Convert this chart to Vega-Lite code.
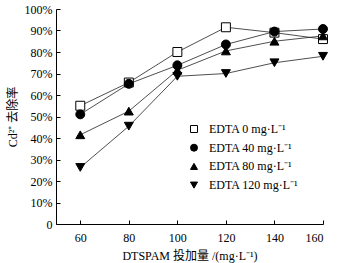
{
  "$schema": "https://vega.github.io/schema/vega-lite/v6.json",
  "width": 267,
  "height": 215,
  "autosize": {"type": "none"},
  "padding": {"left": 56, "top": 9, "right": 25, "bottom": 39},
  "background": "white",
  "config": {
    "view": {"stroke": null},
    "font": "Liberation Serif",
    "axis": {
      "grid": false,
      "domainColor": "#000",
      "domainWidth": 1,
      "tickColor": "#000",
      "tickSize": -4,
      "labelFont": "Liberation Serif",
      "labelFontSize": 12,
      "labelColor": "#000",
      "titleFont": "Liberation Serif, Noto Sans CJK SC",
      "titleFontSize": 12,
      "titleFontWeight": "normal",
      "titleColor": "#000"
    },
    "legend": {
      "labelFont": "Liberation Serif",
      "labelFontSize": 12,
      "labelColor": "#000"
    }
  },
  "data": {
    "values": [
      {"series": "EDTA 0 mg·L⁻¹", "dose": 60, "rate": 55},
      {"series": "EDTA 0 mg·L⁻¹", "dose": 80, "rate": 65.8},
      {"series": "EDTA 0 mg·L⁻¹", "dose": 100, "rate": 80},
      {"series": "EDTA 0 mg·L⁻¹", "dose": 120, "rate": 91.5},
      {"series": "EDTA 0 mg·L⁻¹", "dose": 140, "rate": 89},
      {"series": "EDTA 0 mg·L⁻¹", "dose": 160, "rate": 86},
      {"series": "EDTA 40 mg·L⁻¹", "dose": 60, "rate": 51},
      {"series": "EDTA 40 mg·L⁻¹", "dose": 80, "rate": 65.2},
      {"series": "EDTA 40 mg·L⁻¹", "dose": 100, "rate": 73.8},
      {"series": "EDTA 40 mg·L⁻¹", "dose": 120, "rate": 83.5},
      {"series": "EDTA 40 mg·L⁻¹", "dose": 140, "rate": 89.5},
      {"series": "EDTA 40 mg·L⁻¹", "dose": 160, "rate": 90.7},
      {"series": "EDTA 80 mg·L⁻¹", "dose": 60, "rate": 41.5},
      {"series": "EDTA 80 mg·L⁻¹", "dose": 80, "rate": 52.5},
      {"series": "EDTA 80 mg·L⁻¹", "dose": 100, "rate": 71.5},
      {"series": "EDTA 80 mg·L⁻¹", "dose": 120, "rate": 80.5},
      {"series": "EDTA 80 mg·L⁻¹", "dose": 140, "rate": 85},
      {"series": "EDTA 80 mg·L⁻¹", "dose": 160, "rate": 87.5},
      {"series": "EDTA 120 mg·L⁻¹", "dose": 60, "rate": 26.3},
      {"series": "EDTA 120 mg·L⁻¹", "dose": 80, "rate": 45.5},
      {"series": "EDTA 120 mg·L⁻¹", "dose": 100, "rate": 68.7},
      {"series": "EDTA 120 mg·L⁻¹", "dose": 120, "rate": 70},
      {"series": "EDTA 120 mg·L⁻¹", "dose": 140, "rate": 75},
      {"series": "EDTA 120 mg·L⁻¹", "dose": 160, "rate": 78}
    ]
  },
  "encoding": {
    "x": {
      "field": "dose",
      "type": "quantitative",
      "scale": {"domain": [50, 160], "nice": false, "zero": false},
      "axis": {
        "values": [60, 80, 100, 120, 140, 160],
        "labelPadding": 12,
        "title": "DTSPAM 投加量 /(mg·L⁻¹)",
        "titlePadding": 7
      }
    },
    "y": {
      "field": "rate",
      "type": "quantitative",
      "scale": {"domain": [0, 100], "nice": false},
      "axis": {
        "values": [0, 10, 20, 30, 40, 50, 60, 70, 80, 90, 100],
        "labelExpr": "datum.value == 0 ? '0' : datum.value + '%'",
        "labelPadding": 8,
        "title": "Cd²⁺ 去除率",
        "titlePadding": 5
      }
    }
  },
  "layer": [
    {
      "mark": {"type": "line", "color": "#222", "strokeWidth": 0.8},
      "encoding": {"detail": {"field": "series"}}
    },
    {
      "mark": {"type": "point", "filled": false, "stroke": "#000", "strokeWidth": 1, "opacity": 1, "size": 80},
      "encoding": {
        "shape": {
          "field": "series",
          "scale": {
            "domain": ["EDTA 0 mg·L⁻¹", "EDTA 40 mg·L⁻¹", "EDTA 80 mg·L⁻¹", "EDTA 120 mg·L⁻¹"],
            "range": ["square", "circle", "triangle-up", "triangle-down"]
          },
          "legend": {
            "title": null,
            "orient": "none",
            "legendX": 132,
            "legendY": 114,
            "symbolSize": 49,
            "labelOffset": 9,
            "rowPadding": 6.7,
            "symbolStrokeWidth": 1
          }
        },
        "fill": {
          "field": "series",
          "scale": {
            "domain": ["EDTA 0 mg·L⁻¹", "EDTA 40 mg·L⁻¹", "EDTA 80 mg·L⁻¹", "EDTA 120 mg·L⁻¹"],
            "range": ["#fff", "#000", "#000", "#000"]
          }
        }
      }
    }
  ]
}
